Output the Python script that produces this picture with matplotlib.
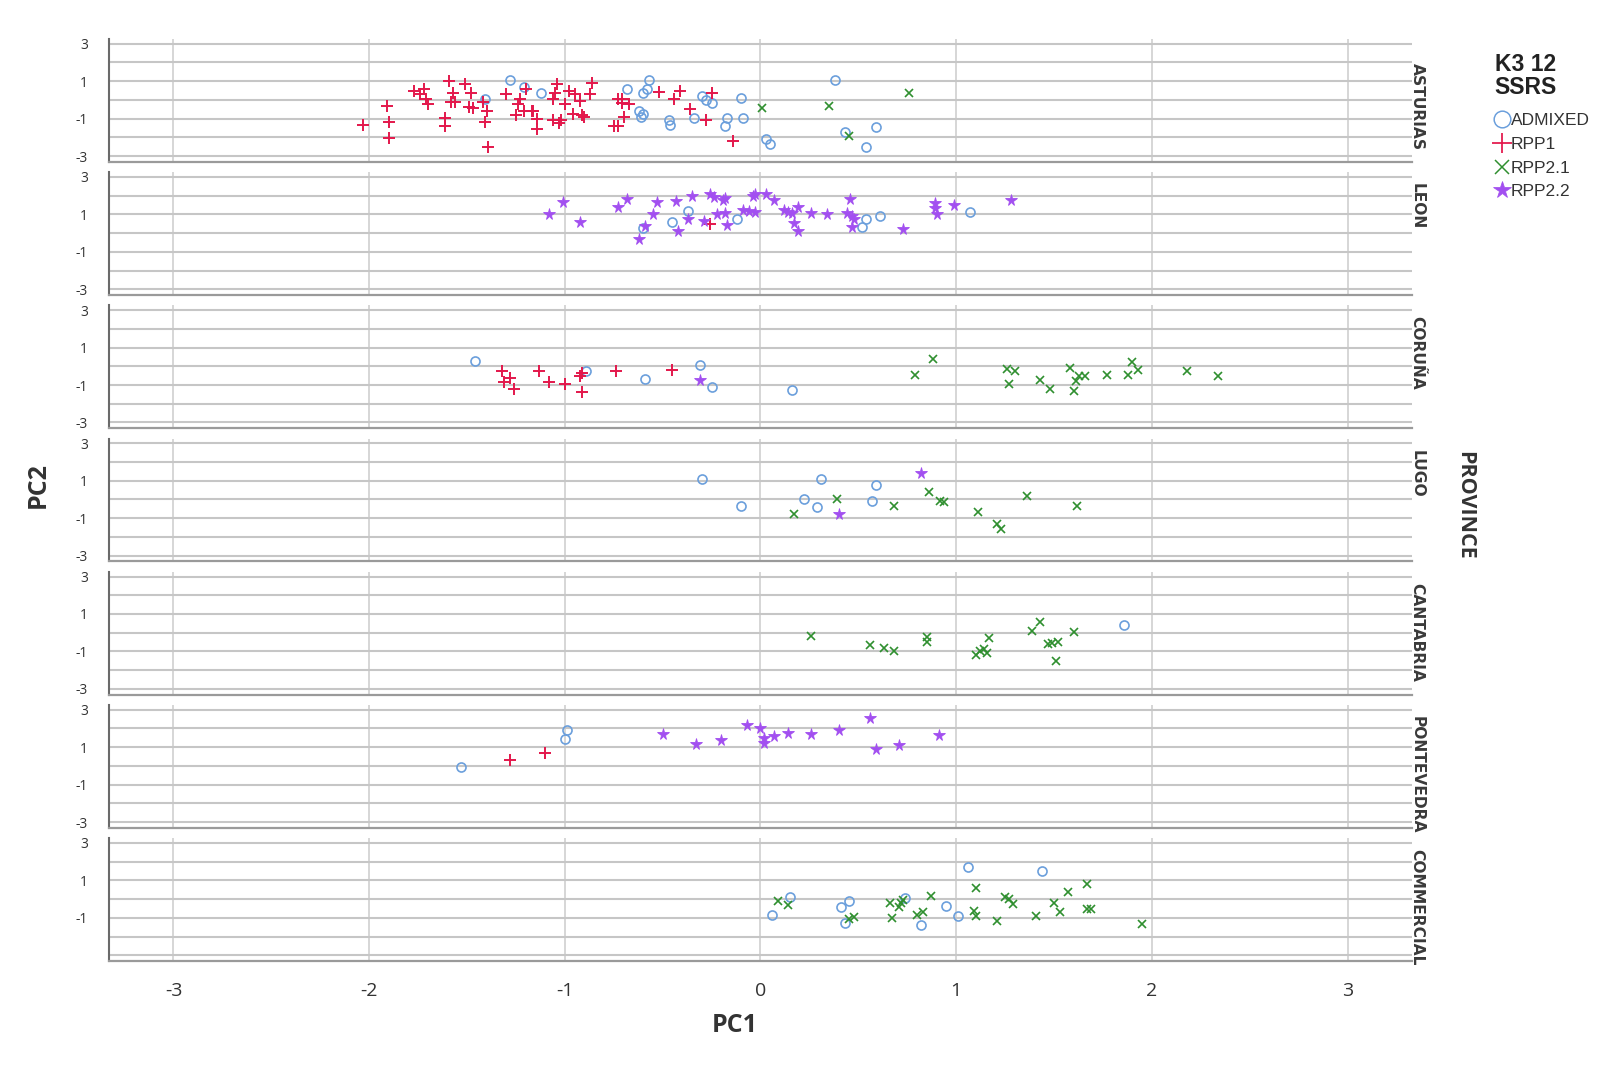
"""
plot.py - PCA scatter of PC1 vs PC2, one panel per province (K3, 12 SSRs).
"""

import matplotlib
matplotlib.use("Agg")
import matplotlib.pyplot as plt
from matplotlib.lines import Line2D

plt.rcParams["axes.unicode_minus"] = False

PROVINCES = ["ASTURIAS", "LEON", "CORUÑA", "LUGO", "CANTABRIA", "PONTEVEDRA", "COMMERCIAL"]
GROUPS = ["ADMIXED", "RPP1", "RPP2.1", "RPP2.2"]
X_TICKS = [-3, -2, -1, 0, 1, 2, 3]
Y_LABELLED = [-3, -1, 1, 3]
Y_UNLABELLED = [-2, 0, 2]

# (PC1, PC2) pairs, per province and group
ASTURIAS_ADMIXED = [
    (-1.41, 0.04), (-1.28, 1.07), (-1.21, 0.69), (-1.12, 0.39), (-0.68, 0.60),
    (-0.62, -0.62), (-0.61, -0.90), (-0.60, -0.78), (-0.60, 0.39), (-0.58, 0.57),
    (-0.57, 1.05), (-0.47, -1.08), (-0.46, -1.35), (-0.34, -0.98), (-0.30, 0.21),
    (-0.28, 0.00), (-0.25, -0.18), (-0.18, -1.42), (-0.17, -0.98), (-0.10, 0.12),
    (-0.09, -0.98), (0.03, -2.10), (0.05, -2.36), (0.38, 1.07), (0.43, -1.71),
    (0.54, -2.54), (0.59, -1.47),
]
ASTURIAS_RPP1 = [
    (-2.03, -1.35), (-1.91, -0.32), (-1.90, -1.17), (-1.90, -2.04), (-1.77, 0.48),
    (-1.74, 0.30), (-1.72, 0.57), (-1.71, 0.04), (-1.70, -0.23), (-1.59, 1.01),
    (-1.57, 0.39), (-1.58, -0.14), (-1.56, -0.14), (-1.61, -0.98), (-1.61, -1.42),
    (-1.51, 0.83), (-1.48, 0.39), (-1.49, -0.37), (-1.47, -0.41), (-1.42, -0.14),
    (-1.40, -0.59), (-1.41, -1.17), (-1.39, -2.54), (-1.30, 0.30), (-1.23, 0.04),
    (-1.24, -0.23), (-1.25, -0.82), (-1.21, -0.59), (-1.20, 0.57), (-1.17, -0.59),
    (-1.16, -0.59), (-1.14, -1.03), (-1.14, -1.53), (-1.06, -1.08), (-1.06, 0.04),
    (-1.05, 0.39), (-1.04, 0.83), (-1.03, -1.21), (-1.02, -1.08), (-1.00, -0.23),
    (-0.98, 0.48), (-0.96, -0.76), (-0.95, 0.30), (-0.92, -0.05), (-0.91, -0.82),
    (-0.90, -0.89), (-0.87, 0.30), (-0.86, 0.89), (-0.75, -1.42), (-0.73, -1.42),
    (-0.73, 0.04), (-0.71, 0.04), (-0.70, -0.89), (-0.67, -0.23), (-0.71, -0.18),
    (-0.52, 0.44), (-0.44, 0.07), (-0.41, 0.48), (-0.36, -0.50), (-0.28, -1.08),
    (-0.25, 0.36), (-0.14, -2.22),
]
ASTURIAS_RPP21 = [(0.01, -0.41), (0.35, -0.32), (0.45, -1.95), (0.76, 0.39)]
ASTURIAS_RPP22 = []

LEON_ADMIXED = [
    (-0.60, 0.27), (-0.45, 0.57), (-0.37, 1.19), (-0.12, 0.75), (0.54, 0.76),
    (0.52, 0.32), (0.61, 0.89), (1.07, 1.15),
]
LEON_RPP1 = [(-0.26, 0.48)]
LEON_RPP21 = []
LEON_RPP22 = [
    (-1.08, 1.03), (-1.01, 1.65), (-0.92, 0.57), (-0.73, 1.37), (-0.68, 1.81),
    (-0.55, 1.01), (-0.53, 1.65), (-0.62, -0.32), (-0.59, 0.39), (-0.43, 1.69),
    (-0.42, 0.12), (-0.35, 2.00), (-0.37, 0.75), (-0.26, 2.08), (-0.24, 1.92),
    (-0.19, 1.78), (-0.18, 1.87), (-0.22, 1.01), (-0.18, 1.07), (-0.29, 0.62),
    (-0.17, 0.44), (-0.09, 1.21), (-0.06, 1.19), (-0.04, 1.99), (-0.03, 2.08),
    (-0.03, 1.12), (0.03, 2.10), (0.07, 1.74), (0.12, 1.21), (0.14, 1.15),
    (0.16, 1.07), (0.19, 1.39), (0.17, 0.53), (0.19, 0.09), (0.26, 1.07),
    (0.34, 1.01), (0.44, 1.07), (0.46, 1.81), (0.47, 0.92), (0.48, 0.75),
    (0.47, 0.32), (0.73, 0.21), (0.89, 1.60), (0.89, 1.33), (0.90, 1.01),
    (0.99, 1.51), (1.28, 1.74),
]

CORUNA_ADMIXED = [(-1.46, 0.30), (-0.89, -0.27), (-0.59, -0.67), (-0.31, 0.05), (-0.25, -1.12), (0.16, -1.28)]
CORUNA_RPP1 = [
    (-1.32, -0.27), (-1.28, -0.62), (-1.31, -0.83), (-1.26, -1.21), (-1.13, -0.27),
    (-1.08, -0.83), (-1.00, -0.92), (-0.92, -0.53), (-0.91, -0.36), (-0.91, -1.39),
    (-0.74, -0.27), (-0.45, -0.18),
]
CORUNA_RPP21 = [
    (0.79, -0.48), (0.88, 0.41), (1.26, -0.12), (1.30, -0.27), (1.27, -0.92),
    (1.43, -0.71), (1.48, -1.21), (1.58, -0.09), (1.61, -0.76), (1.60, -1.33),
    (1.63, -0.50), (1.66, -0.50), (1.77, -0.44), (1.88, -0.44), (1.90, 0.21),
    (1.93, -0.21), (2.18, -0.23), (2.34, -0.53),
]
CORUNA_RPP22 = [(-0.31, -0.75)]

LUGO_ADMIXED = [(-0.30, 1.07), (-0.10, -0.36), (0.22, 0.00), (0.29, -0.41), (0.31, 1.12), (0.59, 0.75), (0.57, -0.09)]
LUGO_RPP1 = []
LUGO_RPP21 = [
    (0.17, -0.76), (0.39, 0.00), (0.68, -0.36), (0.86, 0.41), (0.92, -0.09),
    (0.94, -0.14), (1.11, -0.67), (1.21, -1.30), (1.23, -1.56), (1.36, 0.21),
    (1.62, -0.36),
]
LUGO_RPP22 = [(0.82, 1.42), (0.40, -0.75)]

CANTABRIA_ADMIXED = [(1.86, 0.39)]
CANTABRIA_RPP1 = []
CANTABRIA_RPP21 = [
    (0.26, -0.18), (0.56, -0.66), (0.63, -0.83), (0.68, -0.98), (0.85, -0.21),
    (0.85, -0.50), (1.10, -1.21), (1.12, -0.98), (1.14, -0.89), (1.16, -1.07),
    (1.17, -0.27), (1.39, 0.09), (1.43, 0.57), (1.47, -0.59), (1.49, -0.53),
    (1.52, -0.50), (1.51, -1.51), (1.60, 0.04),
]
CANTABRIA_RPP22 = []

PONTEVEDRA_ADMIXED = [(-1.53, -0.05), (-1.00, 1.46), (-0.99, 1.90)]
PONTEVEDRA_RPP1 = [(-1.28, 0.30), (-1.10, 0.71)]
PONTEVEDRA_RPP21 = []
PONTEVEDRA_RPP22 = [
    (-0.50, 1.72), (-0.33, 1.19), (-0.20, 1.40), (-0.07, 2.20), (0.00, 2.02),
    (0.02, 1.49), (0.02, 1.24), (0.07, 1.58), (0.14, 1.76), (0.26, 1.72),
    (0.40, 1.90), (0.56, 2.58), (0.59, 0.92), (0.71, 1.10), (0.91, 1.67),
]

COMMERCIAL_ADMIXED = [
    (0.06, -0.82), (0.15, 0.09), (0.41, -0.44), (0.45, -0.09), (0.43, -1.26),
    (0.74, 0.04), (0.82, -1.39), (0.95, -0.36), (1.01, -0.89), (1.06, 1.72),
    (1.44, 1.49),
]
COMMERCIAL_RPP1 = []
COMMERCIAL_RPP21 = [
    (0.09, -0.09), (0.14, -0.32), (0.45, -1.07), (0.48, -0.94), (0.66, -0.18),
    (0.67, -0.98), (0.71, -0.44), (0.72, -0.23), (0.73, -0.05), (0.80, -0.82),
    (0.83, -0.67), (0.87, 0.16), (1.10, 0.60), (1.09, -0.62), (1.10, -0.89),
    (1.21, -1.17), (1.25, 0.12), (1.27, 0.00), (1.29, -0.28), (1.41, -0.89),
    (1.50, -0.23), (1.53, -0.67), (1.57, 0.36), (1.67, 0.80), (1.67, -0.53),
    (1.69, -0.50), (1.95, -1.35),
]
COMMERCIAL_RPP22 = []

PANEL_DATA = [
    [ASTURIAS_ADMIXED, ASTURIAS_RPP1, ASTURIAS_RPP21, ASTURIAS_RPP22],
    [LEON_ADMIXED, LEON_RPP1, LEON_RPP21, LEON_RPP22],
    [CORUNA_ADMIXED, CORUNA_RPP1, CORUNA_RPP21, CORUNA_RPP22],
    [LUGO_ADMIXED, LUGO_RPP1, LUGO_RPP21, LUGO_RPP22],
    [CANTABRIA_ADMIXED, CANTABRIA_RPP1, CANTABRIA_RPP21, CANTABRIA_RPP22],
    [PONTEVEDRA_ADMIXED, PONTEVEDRA_RPP1, PONTEVEDRA_RPP21, PONTEVEDRA_RPP22],
    [COMMERCIAL_ADMIXED, COMMERCIAL_RPP1, COMMERCIAL_RPP21, COMMERCIAL_RPP22],
]

# marker, colour, size in panel (ms) and in legend (lms)
STYLES = {
    "ADMIXED": dict(marker="o", color="#6b9fdc", ms=6.5, lms=12, mew=1.2, fill=False),
    "RPP1":    dict(marker="+", color="#e3174b", ms=8.0, lms=14, mew=1.4, fill=True),
    "RPP2.1":  dict(marker="x", color="#2f8f2f", ms=6.0, lms=10, mew=1.2, fill=True),
    "RPP2.2":  dict(marker="*", color="#a24ff0", ms=8.5, lms=13, mew=0.6, fill=True),
}

TEXT_FONT = ["Open Sans", "DejaVu Sans"]
LABEL_FONT = ["DejaVu Sans"]
LEGEND_FONT = ["Liberation Sans Narrow", "Liberation Sans", "DejaVu Sans"]

fig, axes = plt.subplots(len(PROVINCES), 1, sharex=True, figsize=(16.01, 10.73), dpi=100)
fig.subplots_adjust(left=0.068, right=0.882, top=0.9637, bottom=0.1044, hspace=0.0855)

for i, (ax, name, groups) in enumerate(zip(axes, PROVINCES, PANEL_DATA)):
    last = i == len(PROVINCES) - 1
    ax.set_xlim(-3.33, 3.33)
    ax.set_ylim(-3.3, 3.25)
    ax.set_xticks(X_TICKS)
    if last:
        # bottom panel: the -3 label is hidden behind the x axis
        ax.set_yticks([t for t in Y_LABELLED if t != -3])
        ax.set_yticks(Y_UNLABELLED + [-3], minor=True)
    else:
        ax.set_yticks(Y_LABELLED)
        ax.set_yticks(Y_UNLABELLED, minor=True)
    ax.grid(axis="y", which="both", color="#c6c6c6", linewidth=1.5)
    ax.grid(axis="x", which="major", color="#cbcbcb", linewidth=1.1)
    ax.set_axisbelow(True)

    for side in ("top", "right"):
        ax.spines[side].set_visible(False)
    ax.spines["left"].set_color("#6a6a6a")
    ax.spines["left"].set_linewidth(1.5)
    ax.spines["bottom"].set_color("#9a9a9a")
    ax.spines["bottom"].set_linewidth(1.6)

    ax.tick_params(axis="both", which="both", length=0, colors="#333333")
    ax.tick_params(axis="y", labelsize=10, pad=15)
    ax.tick_params(axis="x", labelsize=14, pad=15)
    for lab in ax.get_yticklabels() + ax.get_xticklabels():
        lab.set_family(TEXT_FONT)

    for group, pts in zip(GROUPS, groups):
        if not pts:
            continue
        st = STYLES[group]
        xs = [p[0] for p in pts]
        ys = [p[1] for p in pts]
        ax.plot(xs, ys, linestyle="none", marker=st["marker"], ms=st["ms"],
                mew=st["mew"], color=st["color"],
                mfc=st["color"] if st["fill"] else "none", zorder=3)

    top = 0.80 if i == 0 else 0.91
    ax.text(0.998, top, name, transform=ax.transAxes, rotation=-90,
            ha="left", va="top", fontsize=11.2, fontweight="bold",
            family=LABEL_FONT, color="#3a3a3a")

fig.text(0.459, 0.044, "PC1", ha="center", va="center", fontsize=18,
         fontweight="bold", family=TEXT_FONT, color="#333333")
fig.text(0.024, 0.548, "PC2", ha="center", va="center", rotation=90,
         fontsize=18, fontweight="bold", family=TEXT_FONT, color="#333333")
fig.text(0.915, 0.529, "PROVINCE", ha="center", va="center", rotation=-90,
         fontsize=15.5, fontweight="bold", family=TEXT_FONT, color="#333333")

# legend: title as plain text, entries below it
fig.text(0.953, 0.929, "K3 12\nSSRS", ha="center", va="center", fontsize=16.5,
         fontweight="bold", family=LEGEND_FONT, linespacing=1.0, color="#222222")
handles = []
for group in GROUPS:
    st = STYLES[group]
    handles.append(Line2D([], [], linestyle="none", marker=st["marker"],
                          ms=st["lms"], mew=st["mew"] * 0.9, color=st["color"],
                          mfc=st["color"] if st["fill"] else "none"))
leg = fig.legend(handles, GROUPS, loc="upper left", bbox_to_anchor=(0.929, 0.903),
                 frameon=False, handlelength=0.7, handletextpad=0.15,
                 labelspacing=0.5, borderpad=0,
                 prop={"family": LEGEND_FONT, "size": 12.5})
for t in leg.get_texts():
    t.set_color("#333333")

plt.savefig("out.png", dpi=100)
plt.close()
